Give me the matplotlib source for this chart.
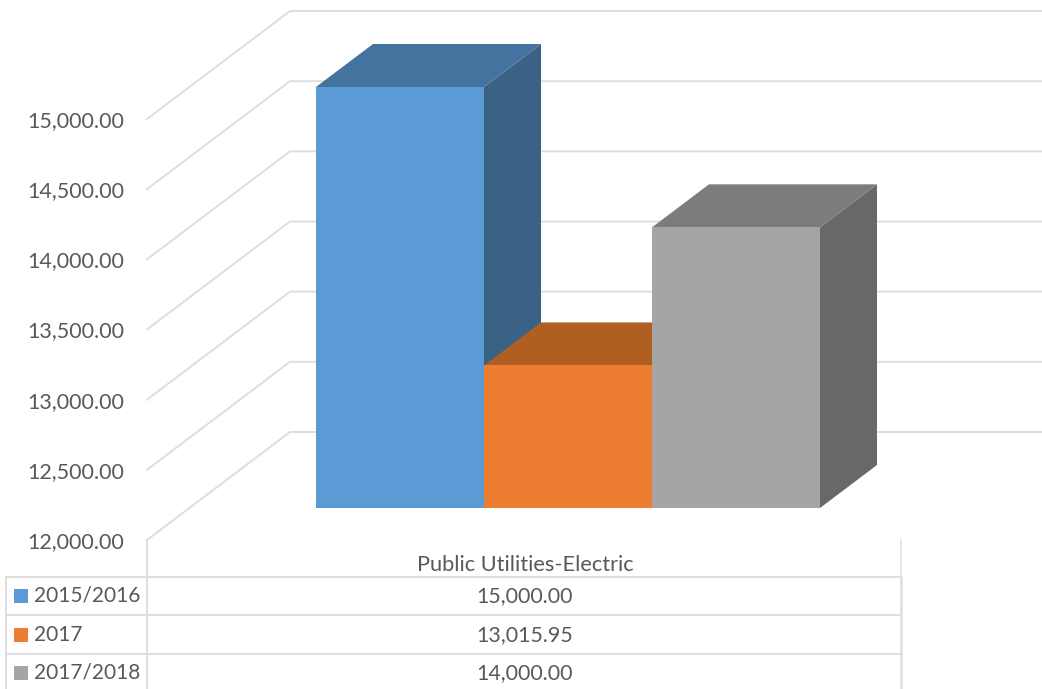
import matplotlib
matplotlib.use("Agg")
import matplotlib.pyplot as plt
from matplotlib.patches import Polygon, Rectangle

plt.rcParams['font.family'] = ['Lato', 'DejaVu Sans']

# Data
category = "Public Utilities-Electric"
series_names = ["2015/2016", "2017", "2017/2018"]
series_values = [15000.00, 13015.95, 14000.00]
y_ticks = [12000, 12500, 13000, 13500, 14000, 14500, 15000]

# Colours: front, top, side
front_colors = ["#5B9BD5", "#ED7D31", "#A5A5A5"]
top_colors = ["#44739F", "#B15E22", "#7C7C7C"]
side_colors = ["#3A6285", "#98501D", "#686868"]
grid_color = "#DEDEDE"
text_color = "#595959"

W, H = 1042, 689
DPI = 100
PX_PER_UNIT = 421 / 3000
Y_BASE_PX = 540  # pixel row of 12000 on the front of the wall


def val(py):
    # pixel row -> value on the y axis
    return 12000 + (Y_BASE_PX - py) / PX_PER_UNIT


def dy(px):
    return px / PX_PER_UNIT


fig = plt.figure(figsize=(W / DPI, H / DPI), dpi=DPI, facecolor="white")
ax = fig.add_axes([147 / W, 0, (W - 147) / W, 1])
ax.set_xlim(147, W)
ax.set_ylim(val(H), val(0))
for s in ax.spines.values():
    s.set_visible(False)
ax.set_xticks([])
ax.set_yticks(y_ticks)
ax.set_yticklabels([f"{t:,.2f}" for t in y_ticks], color=text_color, fontsize=15.5)
ax.tick_params(axis='y', length=0, pad=16.5)

# Walls
wall_x, wall_dy = 290, 108
for t in y_ticks:
    ax.plot([147, wall_x, W], [t, t + dy(wall_dy), t + dy(wall_dy)], color=grid_color,
            lw=1.4, solid_joinstyle='miter', zorder=1, clip_on=False)

# Bars, left to right so each one covers the previous
bar_x0, bar_w = 316, 168
base = val(508)
depth_x, depth_y = 57, dy(43)
for i, (v, f, t, s) in enumerate(zip(series_values, front_colors, top_colors, side_colors)):
    x0 = bar_x0 + i * bar_w
    x1 = x0 + bar_w
    top = base + (v - 12000)
    z = 3 + i
    ax.add_patch(Polygon([(x1, base), (x1 + depth_x, base + depth_y), (x1 + depth_x, top + depth_y), (x1, top)],
                         closed=True, facecolor=s, edgecolor='none', zorder=z))
    ax.add_patch(Polygon([(x0, top), (x1, top), (x1 + depth_x, top + depth_y), (x0 + depth_x, top + depth_y)],
                         closed=True, facecolor=t, edgecolor='none', zorder=z))
    ax.bar(x0, v - 12000, bar_w, bottom=base, align='edge', color=f, linewidth=0, zorder=z + 0.5)

# Data table
tx0, tx1, tx2 = 6, 147, 901.5
row_lines = [577, 615.5, 654]
row_text = [596, 635, 673]
ax.plot([tx1, tx1], [val(540), val(H)], color=grid_color, lw=1.4, clip_on=False, zorder=2)
ax.plot([tx2, tx2], [val(540), val(577)], color=grid_color, lw=1.1, clip_on=False, zorder=2)
ax.plot([tx2, tx2], [val(577), val(H)], color=grid_color, lw=1.8, clip_on=False, zorder=2)
ax.plot([tx0, tx0], [val(577), val(H)], color=grid_color, lw=1.4, clip_on=False, zorder=2)
for r in row_lines:
    ax.plot([tx0, tx2], [val(r), val(r)], color=grid_color, lw=1.4, clip_on=False, zorder=2)

ax.text(525, val(565), category, ha='center', va='center', color=text_color, fontsize=15.7)
for name, v, c, py in zip(series_names, series_values, front_colors, row_text):
    ax.add_patch(Rectangle((14, val(py + 7)), 14, dy(14), facecolor=c, edgecolor='none',
                           clip_on=False, zorder=3))
    ax.text(34, val(py), name, ha='left', va='center', color=text_color, fontsize=15, clip_on=False)
    ax.text(525, val(py), f"{v:,.2f}", ha='center', va='center', color=text_color, fontsize=15.4)

fig.savefig("out.png", dpi=DPI)
